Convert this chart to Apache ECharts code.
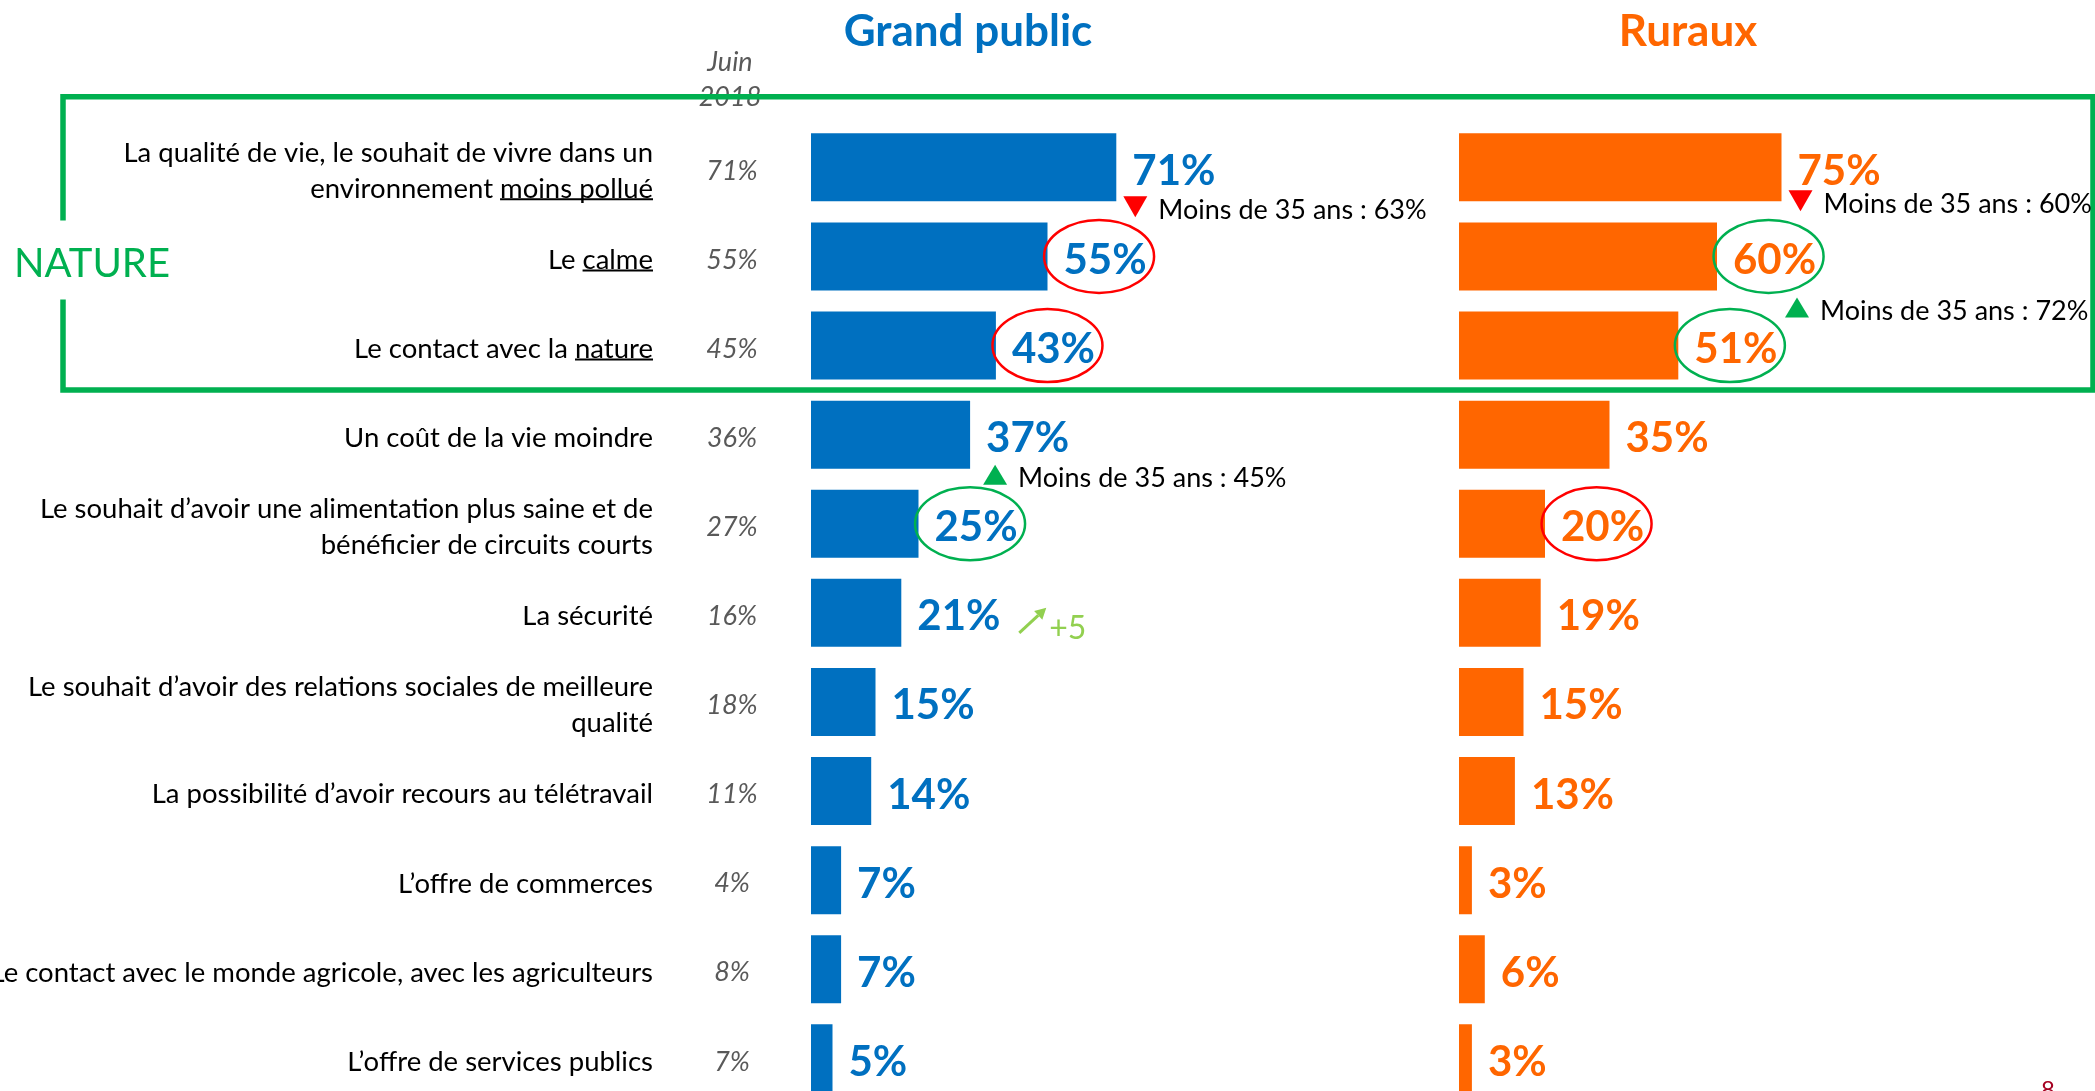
<!DOCTYPE html>
<html>
<head>
<meta charset="utf-8">
<title>Motivations - Grand public / Ruraux</title>
<script src="https://cdn.jsdelivr.net/npm/echarts@6.0.0/dist/echarts.min.js"></script>
<style>
  html, body { margin: 0; padding: 0; background: #fff; }
  #main { width: 2095px; height: 1091px; }
</style>
</head>
<body>
<div id="main"></div>
<script>
// libellés, de haut en bas
const categories = [
  'La qualité de vie, le souhait de vivre dans un\nenvironnement moins pollué',
  'Le calme',
  'Le contact avec la nature',
  'Un coût de la vie moindre',
  'Le souhait d\u2019avoir une alimentation plus saine et de\nbénéficier de circuits courts',
  'La sécurité',
  'Le souhait d\u2019avoir des relations sociales de meilleure\nqualité',
  'La possibilité d\u2019avoir recours au télétravail',
  'L\u2019offre de commerces',
  'Le contact avec le monde agricole, avec les agriculteurs',
  'L\u2019offre de services publics'
]
const grandPublic = [71, 55, 43, 37, 25, 21, 15, 14, 7, 7, 5]
const ruraux = [75, 60, 51, 35, 20, 19, 15, 13, 3, 6, 3]
const juin2018 = [71, 55, 45, 36, 27, 16, 18, 11, 4, 8, 7]
// mots soulignés (par ligne)
const underlined = ['moins pollué', 'calme', 'nature']
// cercles : [série, ligne]  (0 = Grand public, 1 = Ruraux)
const redCircles = [[0, 1], [0, 2], [1, 4]]
const greenCircles = [[0, 4], [1, 1], [1, 2]]
// moins de 35 ans
const notes = [
  { s: 0, row: 0, up: false, text: 'Moins de 35 ans : 63%' },
  { s: 1, row: 0, up: false, text: 'Moins de 35 ans : 60%' },
  { s: 1, row: 1, up: true, text: 'Moins de 35 ans : 72%' },
  { s: 0, row: 3, up: true, text: 'Moins de 35 ans : 45%' }
]
const evolution = { s: 0, row: 5, text: '+5' }

// mise en page
const noteOffsets = [[19, 39], [19, 33], [80, 51], [25, 40]]
const BLUE = '#0070C0'
const ORANGE = '#FF6600'
const GREEN = '#00B050'
const RED = '#FF0000'
const FONT = 'Lato, "Open Sans", sans-serif'
const GRID_TOP = 122.8
const GRID_H = 980.1
const LABEL_SHIFT = 3.5 // les libellés sont un peu plus bas que le centre des barres

const valueLabel = color => ({
  show: true,
  position: 'right',
  distance: 16,
  offset: [0, 4],
  formatter: '{c}%',
  fontFamily: FONT,
  fontWeight: 'bold',
  fontSize: 42,
  color: color
})

const gridBase = { width: 430, height: GRID_H, containLabel: false, outerBoundsMode: 'none' }
const hidden = { axisLine: { show: false }, axisTick: { show: false } }

const option = {
  animation: false,
  backgroundColor: '#fff',
  grid: [
    Object.assign({ left: 811, top: GRID_TOP }, gridBase),
    Object.assign({ left: 1459, top: GRID_TOP }, gridBase),
    // grille des libellés
    Object.assign({ left: 811, top: GRID_TOP + LABEL_SHIFT }, gridBase)
  ],
  xAxis: [
    { gridIndex: 0, type: 'value', min: 0, max: 100, show: false },
    { gridIndex: 1, type: 'value', min: 0, max: 100, show: false },
    { gridIndex: 2, type: 'value', min: 0, max: 100, show: false }
  ],
  yAxis: [
    Object.assign({ gridIndex: 0, type: 'category', data: categories, inverse: true, axisLabel: { show: false } }, hidden),
    Object.assign({ gridIndex: 1, type: 'category', data: categories, inverse: true, axisLabel: { show: false } }, hidden),
    Object.assign({
      gridIndex: 2, type: 'category', data: categories, inverse: true, position: 'left',
      axisLabel: { margin: 158, align: 'right', fontFamily: FONT, fontSize: 27.5, lineHeight: 36, color: '#000' }
    }, hidden),
    Object.assign({
      gridIndex: 2, type: 'category', data: juin2018.map(v => v + '%'), inverse: true, position: 'left',
      axisLabel: { margin: 79, align: 'center', fontFamily: FONT, fontStyle: 'italic', fontSize: 27, color: '#595959' }
    }, hidden)
  ],
  series: [
    {
      name: 'Grand public', type: 'bar', xAxisIndex: 0, yAxisIndex: 0,
      data: grandPublic, barWidth: 68, itemStyle: { color: BLUE }, label: valueLabel(BLUE)
    },
    {
      name: 'Ruraux', type: 'bar', xAxisIndex: 1, yAxisIndex: 1,
      data: ruraux, barWidth: 68, itemStyle: { color: ORANGE }, label: valueLabel(ORANGE)
    }
  ]
}

const chart = echarts.init(document.getElementById('main'))
chart.setOption(option)

// mesure de texte pour les soulignés et les cercles
const ctx = document.createElement('canvas').getContext('2d')
function textW(str, font) {
  ctx.font = font
  return ctx.measureText(str).width
}

const seriesData = [grandPublic, ruraux]
// [fin de barre, centre de la ligne]
const pt = (s, i) => chart.convertToPixel({ seriesIndex: s }, [seriesData[s][i], i])
const rowH = GRID_H / categories.length

const graphics = []

// titres
graphics.push(
  { type: 'text', x: 968, y: 31.5, style: { text: 'Grand public', fill: BLUE, fontFamily: FONT, fontWeight: 'bold', fontSize: 44, align: 'center', verticalAlign: 'middle' } },
  { type: 'text', x: 1688, y: 31.5, style: { text: 'Ruraux', fill: ORANGE, fontFamily: FONT, fontWeight: 'bold', fontSize: 44, align: 'center', verticalAlign: 'middle' } },
  { type: 'text', x: 730, y: 80, style: { text: 'Juin\n2018', fill: '#595959', fontFamily: FONT, fontStyle: 'italic', fontSize: 27, lineHeight: 35, align: 'center', verticalAlign: 'middle' } }
)

// cadre NATURE
const boxTop = pt(0, 0)[1] - rowH / 2 - 26
const boxBottom = pt(0, 2)[1] + rowH / 2
const natY = pt(0, 1)[1]
graphics.push(
  {
    type: 'polyline', z: 50,
    shape: { points: [[63, natY + 43], [63, boxBottom], [2093, boxBottom], [2093, boxTop], [63, boxTop], [63, natY - 36]] },
    style: { stroke: GREEN, lineWidth: 5.5, fill: null }
  },
  { type: 'text', x: 14, y: natY + 8, style: { text: 'NATURE', fill: GREEN, fontFamily: FONT, fontSize: 40, verticalAlign: 'middle' } }
)

// soulignés
underlined.forEach((word, i) => {
  const lines = categories[i].split('\n').length
  const y = pt(0, i)[1] + (lines - 1) * 18 + 14
  const w = textW(word, '27.5px ' + FONT)
  graphics.push({ type: 'line', shape: { x1: 653 - w, y1: y, x2: 653, y2: y }, style: { stroke: '#000', lineWidth: 2 } })
})

// cercles autour des valeurs
function circle(s, row, color) {
  const p = pt(s, row)
  const w = textW(seriesData[s][row] + '%', 'bold 42px ' + FONT)
  graphics.push({
    type: 'ellipse', z: 60,
    shape: { cx: p[0] + 16 + w / 2 - 6, cy: p[1], rx: 55, ry: 36.5 },
    style: { fill: null, stroke: color, lineWidth: 2.5 }
  })
}
redCircles.forEach(c => circle(c[0], c[1], RED))
greenCircles.forEach(c => circle(c[0], c[1], GREEN))

// annotations moins de 35 ans
notes.forEach((n, k) => {
  const p = pt(n.s, n.row)
  const cx = p[0] + noteOffsets[k][0]
  const cy = p[1] + noteOffsets[k][1]
  const pts = n.up
    ? [[cx - 12, cy + 10], [cx + 12, cy + 10], [cx, cy - 10]]
    : [[cx - 12, cy - 10], [cx + 12, cy - 10], [cx, cy + 11]]
  graphics.push(
    { type: 'polygon', z: 60, shape: { points: pts }, style: { fill: n.up ? GREEN : RED } },
    { type: 'text', z: 60, x: cx + 23, y: cy + 4, style: { text: n.text, fill: '#000', fontFamily: FONT, fontSize: 27, verticalAlign: 'middle' } }
  )
})

// évolution +5
;(function () {
  const p = pt(evolution.s, evolution.row)
  const x0 = p[0] + 118, y0 = p[1] + 20
  const x1 = p[0] + 145, y1 = p[1] - 5
  const len = Math.hypot(x1 - x0, y1 - y0)
  const dx = (x1 - x0) / len, dy = (y1 - y0) / len
  const bx = x1 - dx * 11, by = y1 - dy * 11
  const light = '#92D050'
  graphics.push(
    { type: 'line', z: 60, shape: { x1: x0, y1: y0, x2: bx, y2: by }, style: { stroke: light, lineWidth: 3 } },
    { type: 'polygon', z: 60, shape: { points: [[x1, y1], [bx - dy * 6, by + dx * 6], [bx + dy * 6, by - dx * 6]] }, style: { fill: light } },
    { type: 'text', z: 60, x: p[0] + 148, y: p[1] + 16, style: { text: evolution.text, fill: light, fontFamily: FONT, fontSize: 32, verticalAlign: 'middle' } }
  )
})()

// numéro de page
graphics.push({ type: 'text', x: 2048, y: 1078, style: { text: '8', fill: '#A50021', fontFamily: FONT, fontSize: 24, align: 'center', verticalAlign: 'top' } })

chart.setOption({ graphic: graphics })
</script>
</body>
</html>
